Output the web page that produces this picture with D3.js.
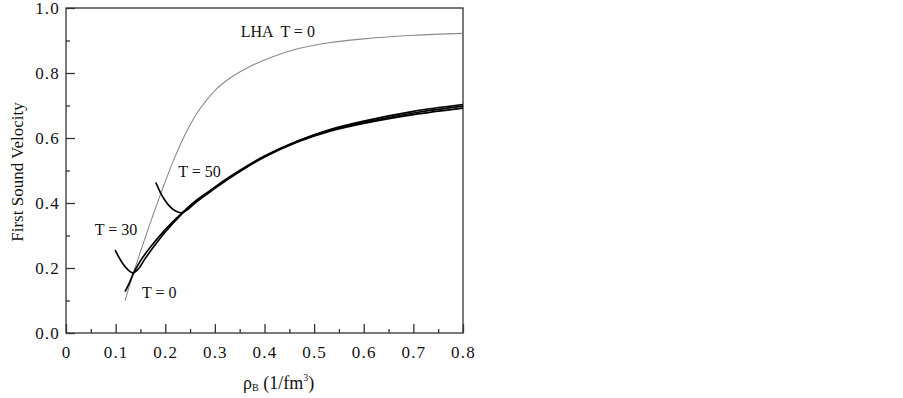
<!doctype html>
<html>
  <head>
    <script src="https://cdn.jsdelivr.net/npm/d3@7"></script>
    <style>
      body { margin: 0; background: #fff; }
      text { font-family: "Liberation Serif", "Times New Roman", serif; fill: #111; }
    </style>
  </head>
  <body>
    <svg width="903" height="398"></svg>

    <script type="text/javascript">

        // tick values
        var xTicks = [0, 0.1, 0.2, 0.3, 0.4, 0.5, 0.6, 0.7, 0.8];
        var yTicks = [0, 0.2, 0.4, 0.6, 0.8, 1.0];
        var xMinor = [0.05, 0.15, 0.25, 0.35, 0.45, 0.55, 0.65, 0.75];
        var yMinor = [0.1, 0.3, 0.5, 0.7, 0.9];

        // LHA T = 0 (thin grey)
        var lha = [[0.119, 0.10], [0.136, 0.185], [0.16, 0.295], [0.19, 0.425], [0.215, 0.525],
                   [0.243, 0.620], [0.27, 0.690], [0.304, 0.752], [0.33, 0.784], [0.351, 0.804],
                   [0.40, 0.840], [0.465, 0.874], [0.53, 0.893], [0.60, 0.905], [0.70, 0.916], [0.80, 0.922]];

        // T = 0
        var t0 = [[0.119, 0.127], [0.128, 0.155], [0.136, 0.184], [0.15, 0.222], [0.169, 0.262],
                  [0.2, 0.318], [0.233, 0.368], [0.26, 0.405], [0.29, 0.438], [0.33, 0.481],
                  [0.398, 0.543], [0.465, 0.590], [0.532, 0.626], [0.6, 0.652], [0.7, 0.682], [0.8, 0.703]];

        // T = 30
        var t30 = [[0.099, 0.255], [0.107, 0.232], [0.115, 0.212], [0.125, 0.194], [0.135, 0.185],
                   [0.145, 0.196], [0.16, 0.230], [0.18, 0.272], [0.2, 0.311], [0.233, 0.366],
                   [0.26, 0.403], [0.29, 0.436], [0.33, 0.478], [0.398, 0.540], [0.465, 0.587],
                   [0.532, 0.621], [0.6, 0.645], [0.7, 0.672], [0.8, 0.692]];

        // T = 50
        var t50 = [[0.181, 0.463], [0.19, 0.433], [0.2, 0.407], [0.21, 0.388], [0.22, 0.376],
                   [0.232, 0.370], [0.245, 0.380], [0.26, 0.400], [0.29, 0.434], [0.33, 0.477],
                   [0.398, 0.541], [0.465, 0.588], [0.532, 0.624], [0.6, 0.648], [0.7, 0.677], [0.8, 0.698]];

        var svg = d3.select("svg");

        var margin = {left: 66, top: 8},
            width = 397,
            height = 325;

        var g = svg.append("g").attr("transform", `translate(${margin.left}, ${margin.top})`);

        var x = d3.scaleLinear().domain([0, 0.8]).range([0, width]);
        var y = d3.scaleLinear().domain([0, 1]).range([height, 0]);

        // frame
        g.append("rect")
            .attr("width", width).attr("height", height)
            .attr("fill", "none").attr("stroke", "#333").attr("stroke-width", 1.3);

        // axes with inward ticks
        g.append("g").attr("transform", `translate(0, ${height})`)
            .call(d3.axisBottom(x).tickValues(xTicks).tickSize(-9).tickPadding(13)
                .tickFormat(d => d === 0 ? "0" : d3.format(".1f")(d)));
        g.append("g").attr("transform", `translate(0, ${height})`)
            .call(d3.axisBottom(x).tickValues(xMinor).tickSize(-4).tickFormat(""));

        g.append("g")
            .call(d3.axisLeft(y).tickValues(yTicks).tickSize(-9).tickPadding(6)
                .tickFormat(d3.format(".1f")));
        g.append("g")
            .call(d3.axisLeft(y).tickValues(yMinor).tickSize(-4).tickFormat(""));

        g.selectAll(".domain").remove();
        g.selectAll("g").attr("font-family", "Liberation Serif").attr("font-size", 17);
        g.selectAll(".tick line").attr("stroke", "#333").attr("stroke-width", 1.3);
        g.selectAll(".tick text")
            .style("font-family", "Liberation Serif")
            .style("font-size", "17px")
            .style("letter-spacing", "1.2px")
            .attr("fill", "#111");

        // curves
        var line = d3.line()
            .x(d => x(d[0]))
            .y(d => y(d[1]))
            .curve(d3.curveCatmullRom);

        g.append("path").datum(lha)
            .attr("d", line).attr("fill", "none")
            .attr("stroke", "#8a8a8a").attr("stroke-width", 1.1);

        [t0, t30, t50].forEach(function(s) {
            g.append("path").datum(s)
                .attr("d", line).attr("fill", "none")
                .attr("stroke", "#000").attr("stroke-width", 1.7);
        });

        // curve labels
        var labels = [
            {text: "LHA  T = 0", x: 0.352, y: 0.91},
            {text: "T = 50", x: 0.226, y: 0.479},
            {text: "T = 30", x: 0.058, y: 0.301},
            {text: "T = 0", x: 0.153, y: 0.108}
        ];
        g.selectAll(".lbl").data(labels).enter().append("text")
            .attr("class", "lbl")
            .attr("x", d => x(d.x))
            .attr("y", d => y(d.y))
            .style("font-size", "16px")
            .style("white-space", "pre")
            .text(d => d.text);

        // axis titles
        svg.append("text")
            .attr("transform", "translate(23, 172) rotate(-90)")
            .attr("text-anchor", "middle")
            .style("font-size", "17px")
            .text("First Sound Velocity");

        var xt = svg.append("text")
            .attr("x", 243).attr("y", 389)
            .style("font-size", "18px");
        xt.append("tspan").text("ρ");
        xt.append("tspan").attr("dy", 2).style("font-size", "10px").text("B");
        xt.append("tspan").attr("dy", -2).text(" (1/fm");
        xt.append("tspan").attr("dy", -8).style("font-size", "10px").text("3");
        xt.append("tspan").attr("dy", 8).text(")");

    </script>
  </body>
</html>
